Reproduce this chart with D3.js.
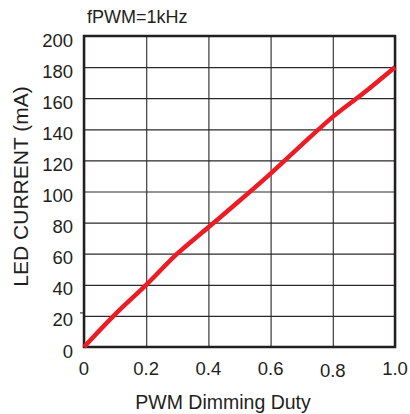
<!DOCTYPE html>
<html lang="en">
<head>
<meta charset="UTF-8">
<title>LED Current vs PWM Dimming Duty</title>
<script src="https://d3js.org/d3.v7.min.js"></script>
<style>
    body { margin: 0; background: #fff; }
    svg { display: block; }
    text { font-family: "Liberation Sans", Arial, sans-serif; fill: #231f20; }
</style>
</head>
<body>
<svg id="chart" width="410" height="414"></svg>
<script>
    // values
    const duty = [0, 0.1, 0.2, 0.3, 0.4, 0.5, 0.6, 0.7, 0.8, 0.9, 1.0];
    const current = [0, 21, 40, 60, 77, 94, 111.5, 130, 148, 163.5, 180];
    const xTicks = [0, 0.2, 0.4, 0.6, 0.8, 1.0];
    const xTickLabels = ["0", "0.2", "0.4", "0.6", "0.8", "1.0"];
    const yTicks = [0, 20, 40, 60, 80, 100, 120, 140, 160, 180, 200];

    const svg = d3.select("#chart");
    const margin = {left: 84, right: 15, top: 36, bottom: 67};
    const w = 410 - margin.left - margin.right;
    const h = 414 - margin.top - margin.bottom;

    const x = d3.scaleLinear().domain([0, 1]).range([0, w]);
    const y = d3.scaleLinear().domain([0, 200]).range([h, 0]);

    const g = svg.append("g").attr("transform", `translate(${margin.left},${margin.top})`);

    // grid
    g.append("g")
        .call(d3.axisBottom(x).tickValues(xTicks).tickSize(-h).tickFormat(""))
        .attr("transform", `translate(0,${h})`)
        .call(s => s.select(".domain").remove())
        .selectAll("line").attr("stroke", "#3a3a3a").attr("stroke-width", 1.2);
    g.append("g")
        .call(d3.axisLeft(y).tickValues(yTicks).tickSize(-w).tickFormat(""))
        .call(s => s.select(".domain").remove())
        .selectAll("line").attr("stroke", "#2a2a2a").attr("stroke-width", 1.2);

    // little outside tick at 20
    g.append("line")
        .attr("x1", -4).attr("x2", 0)
        .attr("y1", y(20) - 3).attr("y2", y(20) - 3)
        .attr("stroke", "#231f20").attr("stroke-width", 1);

    // tick labels
    g.selectAll(".xl").data(xTicks).enter().append("text")
        .attr("x", d => x(d))
        .attr("y", (d, i) => h + (i === 4 ? 30 : 27.5))
        .attr("text-anchor", "middle")
        .attr("font-size", 18.5)
        .text((d, i) => xTickLabels[i]);
    g.selectAll(".yl").data(yTicks).enter().append("text")
        .attr("x", -11)
        .attr("y", d => y(d) + 10.5)
        .attr("text-anchor", "end")
        .attr("font-size", 18.5)
        .text(d => d);

    // frame
    g.append("rect")
        .attr("width", w).attr("height", h)
        .attr("fill", "none").attr("stroke", "#231f20").attr("stroke-width", 2.5);

    // curve
    const line = d3.line().x(d => x(d)).y((d, i) => y(current[i])).curve(d3.curveMonotoneX);
    g.append("path")
        .datum(duty)
        .attr("d", line)
        .attr("fill", "none")
        .attr("stroke", "#ed1c24")
        .attr("stroke-width", 4.5);

    // titles
    svg.append("text")
        .attr("x", 87).attr("y", 22.5)
        .attr("font-size", 18)
        .text("fPWM=1kHz");
    svg.append("text")
        .attr("x", 223).attr("y", 409)
        .attr("text-anchor", "middle")
        .attr("font-size", 19.5)
        .text("PWM Dimming Duty");
    svg.append("text")
        .attr("transform", "translate(28,186.5) rotate(-90)")
        .attr("text-anchor", "middle")
        .attr("font-size", 21)
        .text("LED CURRENT (mA)");
</script>
</body>
</html>
